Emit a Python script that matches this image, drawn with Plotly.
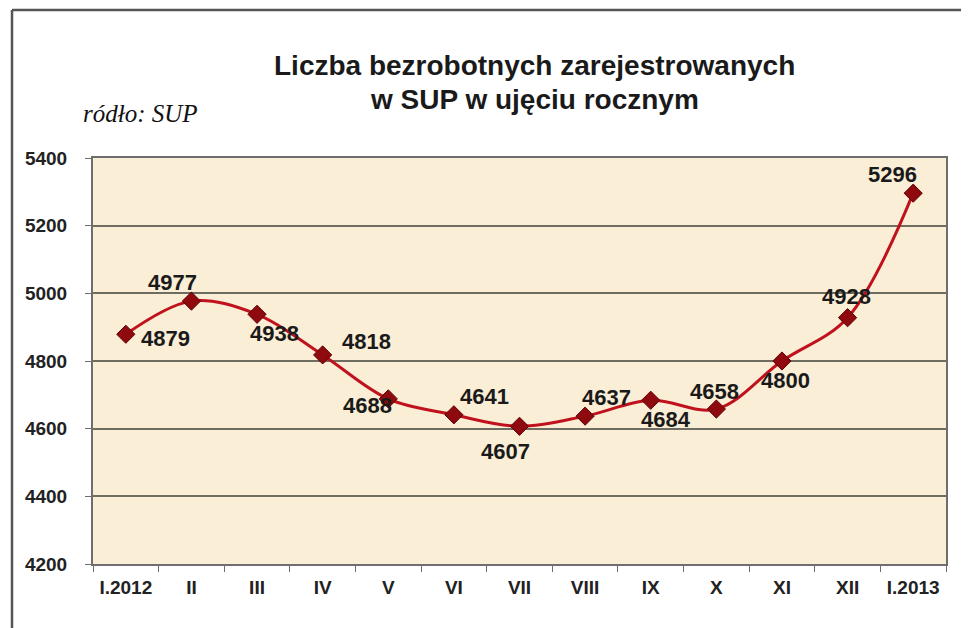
import plotly.graph_objects as go

categories = ["I.2012", "II", "III", "IV", "V", "VI", "VII", "VIII", "IX", "X", "XI", "XII", "I.2013"]
values = [4879, 4977, 4938, 4818, 4688, 4641, 4607, 4637, 4684, 4658, 4800, 4928, 5296]
y_ticks = [4200, 4400, 4600, 4800, 5000, 5200, 5400]

title_lines = ["Liczba bezrobotnych zarejestrowanych", "w SUP w ujęciu rocznym"]
source_text = "ródło: SUP"

# label offsets (pixels) relative to each marker
label_dx = [40, -19, 17, 44, -21, 31, -14, 21, 15, -2, 4, -1, -21]
label_dy = [-4, 19, -19, 13, -7, 18, -25, 19, -19, 18, -19, 21, 19]

# plot area in page pixels (page has 8px body margin)
PL, PR, PT, PB = 93, 946, 158, 564
PW, PH = PR - PL, PB - PT


def px(p):
    return (p - PL) / PW


def py(q):
    return (PB - q) / PH


fig = go.Figure()
fig.add_trace(go.Scatter(
    x=categories, y=values, mode="lines+markers",
    line=dict(color="#C0121C", width=3, shape="spline", smoothing=1.0),
    marker=dict(symbol="diamond", size=14, color="#8E0A0E",
                line=dict(color="#5E0004", width=1)),
    hoverinfo="skip", showlegend=False,
))

for c, v, dx, dy in zip(categories, values, label_dx, label_dy):
    fig.add_annotation(x=c, y=v, xref="x", yref="y", text="<b>%d</b>" % v, showarrow=False,
                       xshift=dx, yshift=dy,
                       font=dict(family="Liberation Sans, Arial", size=22, color="#1a1a1a"),
                       xanchor="center", yanchor="middle")

axis_font = dict(family="Liberation Sans, Arial", size=19, color="#222222")

fig.update_layout(
    width=969, height=628,
    margin=dict(l=PL - 8, r=969 - (PR - 8), t=PT - 8, b=628 - (PB - 8)),
    paper_bgcolor="white",
    plot_bgcolor="#FAEED6",
    font=dict(family="Liberation Sans, Arial"),
    xaxis=dict(
        type="category", categoryorder="array", categoryarray=categories,
        range=[-0.5, len(categories) - 0.5],
        tickmode="array", tickvals=categories,
        ticktext=["<b>%s</b>" % t for t in categories],
        tickfont=axis_font,
        showgrid=False, zeroline=False,
        showline=True, linecolor="#6e6e6e", linewidth=2, mirror=True,
        ticks="outside", tickson="boundaries", ticklen=6, tickcolor="#6e6e6e",
        ticklabelstandoff=5,
    ),
    yaxis=dict(
        range=[4200, 5400],
        tickmode="array", tickvals=y_ticks,
        ticktext=["<b>%d</b>" % t for t in y_ticks],
        tickfont=axis_font,
        showgrid=True, gridcolor="#6f6c62", gridwidth=1.5,
        zeroline=False,
        showline=True, linecolor="#6e6e6e", linewidth=2, mirror=True,
        ticks="outside", ticklen=6, tickcolor="#6e6e6e",
        ticklabelstandoff=14,
    ),
)

# title (two lines)
fig.add_annotation(xref="paper", yref="paper", x=px(534), y=py(65),
                   text="<b>%s</b>" % title_lines[0], showarrow=False,
                   xanchor="center", yanchor="middle",
                   font=dict(family="Liberation Sans, Arial", size=28, color="#1a1a1a"))
fig.add_annotation(xref="paper", yref="paper", x=px(534), y=py(99),
                   text="<b>%s</b>" % title_lines[1], showarrow=False,
                   xanchor="center", yanchor="middle",
                   font=dict(family="Liberation Sans, Arial", size=28, color="#1a1a1a"))
# source
fig.add_annotation(xref="paper", yref="paper", x=px(81), y=py(114),
                   text="<i>%s</i>" % source_text, showarrow=False,
                   xanchor="left", yanchor="middle",
                   font=dict(family="Liberation Serif, Times New Roman", size=25, color="#111111"))

# outer frame (left, top, right)
fl, fr = px(12), px(963)
ft, fb = py(10), py(640)
for x0, y0, x1, y1 in [(fl, fb, fl, ft), (fl, ft, fr, ft), (fr, ft, fr, fb)]:
    fig.add_shape(type="line", xref="paper", yref="paper", x0=x0, y0=y0, x1=x1, y1=y1,
                  line=dict(color="#555555", width=2.5))

fig.write_html("out.html")
